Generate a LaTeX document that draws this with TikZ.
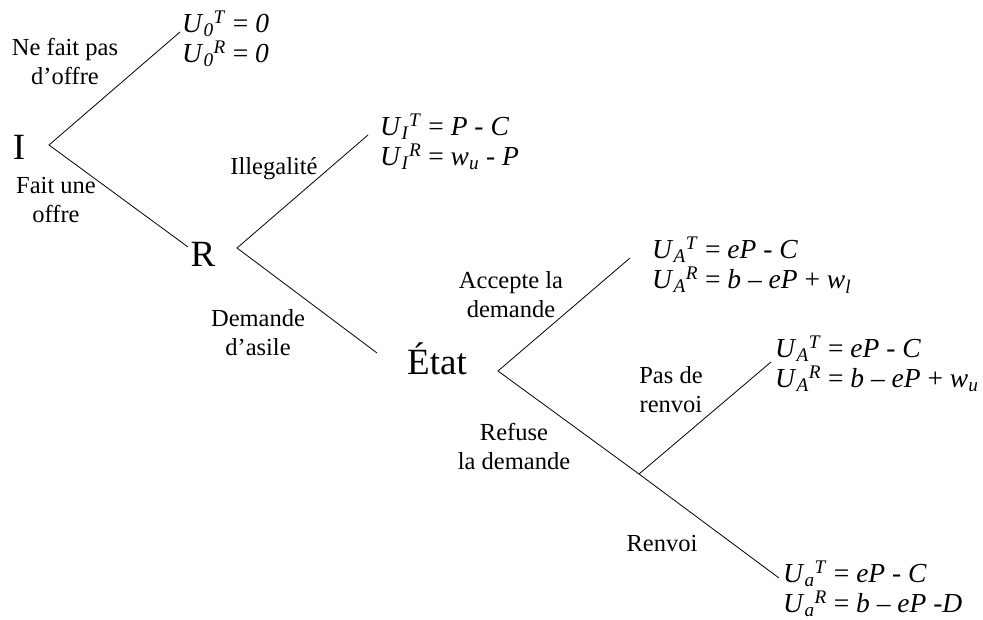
\documentclass[tikz,border=0pt]{standalone}
\usepackage{fontspec}
\setmainfont{Liberation Serif}
\usepackage{tikz}
\usetikzlibrary{positioning}

\newcommand{\util}[2]{\textit{U}\textsubscript{\textit{#1}}\textsuperscript{\textit{#2}}}

\begin{document}
\begin{tikzpicture}[x=1pt, y=-1pt,
  player/.style={font=\fontsize{37}{42}\selectfont, inner sep=0pt},
  move/.style={font=\fontsize{24.5}{29}\selectfont, align=center, inner sep=0pt},
  pay/.style={font=\fontsize{27.5}{30}\selectfont, align=left, anchor=west, inner sep=0pt},
  branch/.style={line width=0.8pt}
]
  \useasboundingbox (0,0) rectangle (983,620);

  % joueurs
  \node[player] (I) at (19,147) {I};
  \node[player] (R) at (203,254) {R};
  \node[player] (E) at (437,359) {État};

  % sommets et extremites
  \coordinate (vI) at (49,145);
  \coordinate (vR) at (237,248);
  \coordinate (vE) at (498,371);
  \coordinate (vN) at (639,474);
  \coordinate (iR) at (188,247);
  \coordinate (iE) at (377,353);
  \coordinate (l0) at (180,32);
  \coordinate (lI) at (368,135);
  \coordinate (lA) at (630,258);
  \coordinate (lP) at (771,362);
  \coordinate (la) at (779,578);

  % branches
  \draw[branch] (l0) -- (vI) -- (iR);
  \draw[branch] (lI) -- (vR) -- (iE);
  \draw[branch] (lA) -- (vE) -- (vN) -- (la);
  \draw[branch] (vN) -- (lP);

  % actions
  \node[move] (nopay) at (65,61) {Ne fait pas\\d’offre};
  \node[move] (offer) at (56,200) {Fait une\\offre};
  \node[move] (illeg) at (274,169) {Illegalité};
  \node[move] (asyl) at (258,333) {Demande\\d’asile};
  \node[move] (acc) at (511,295) {Accepte la\\demande};
  \node[move] (ref) at (514,446) {Refuse\\la demande};
  \node[move] (stay) at (671,390) {Pas de\\renvoi};
  \node[move] (back) at (662,544) {Renvoi};

  % gains
  \node[pay] (p0) at (182,39) {\util{0}{T} = \textit{0}\\\util{0}{R} = \textit{0}};
  \node[pay] (pI) at (380,142) {\util{I}{T} = \textit{P} - \textit{C}\\\util{I}{R} = \textit{w}\textsubscript{\textit{u}} - \textit{P}};
  \node[pay] (pA) at (652,265) {\util{A}{T} = \textit{eP} - \textit{C}\\\util{A}{R} = \textit{b} – \textit{eP} + \textit{w}\textsubscript{\textit{l}}};
  \node[pay] (pP) at (775,364) {\util{A}{T} = \textit{eP} - \textit{C}\\\util{A}{R} = \textit{b} – \textit{eP} + \textit{w}\textsubscript{\textit{u}}};
  \node[pay] (pa) at (783,589) {\util{a}{T} = \textit{eP} - \textit{C}\\\util{a}{R} = \textit{b} – \textit{eP} -\textit{D}};
\end{tikzpicture}
\end{document}
